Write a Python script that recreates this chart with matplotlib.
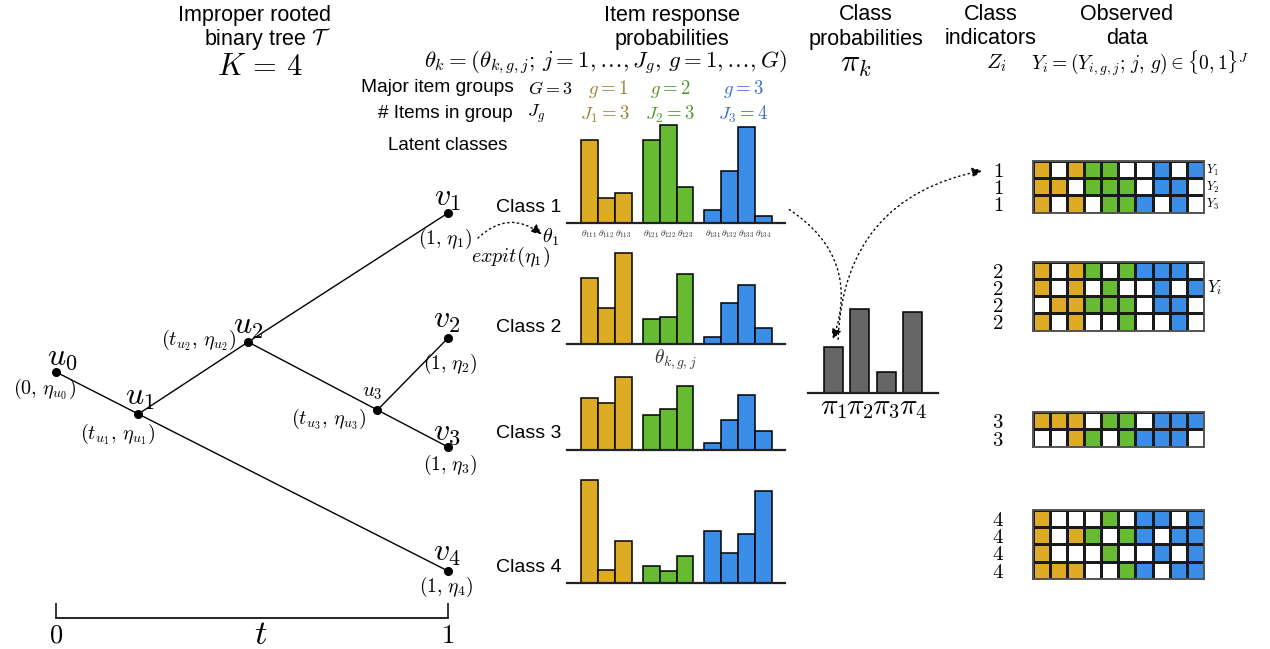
import numpy as np
import matplotlib
matplotlib.use("Agg")
import matplotlib.pyplot as plt
from matplotlib.colors import ListedColormap
from matplotlib.patches import FancyArrowPatch

plt.rcParams['font.family'] = ['Liberation Sans', 'DejaVu Sans']
plt.rcParams['mathtext.fontset'] = 'cm'

# ---------------- data ----------------
node_names = ['u0', 'u1', 'u2', 'u3', 'v1', 'v2', 'v3', 'v4']
node_t = [0.0, 0.21, 0.49, 0.82, 1.0, 1.0, 1.0, 1.0]
node_eta = [2.46, 2.04, 2.76, 2.08, 4.05, 2.80, 1.71, 0.47]
tree_edges = [('u0', 'u1'), ('u1', 'u2'), ('u1', 'v4'), ('u2', 'v1'),
              ('u2', 'u3'), ('u3', 'v2'), ('u3', 'v3')]

class_labels = ['Class 1', 'Class 2', 'Class 3', 'Class 4']
items_per_group = [3, 3, 4]
theta_g1 = [[0.79, 0.24, 0.29], [0.63, 0.34, 0.87], [0.50, 0.45, 0.70], [0.98, 0.12, 0.40]]
theta_g2 = [[0.79, 0.93, 0.34], [0.24, 0.26, 0.67], [0.33, 0.39, 0.61], [0.16, 0.11, 0.26]]
theta_g3 = [[0.12, 0.50, 0.91, 0.07], [0.07, 0.39, 0.56, 0.15],
            [0.07, 0.29, 0.52, 0.18], [0.50, 0.29, 0.47, 0.88]]
theta1_labels = [r'$\theta_{111}$', r'$\theta_{112}$', r'$\theta_{113}$',
                 r'$\theta_{121}$', r'$\theta_{122}$', r'$\theta_{123}$',
                 r'$\theta_{131}$', r'$\theta_{132}$', r'$\theta_{133}$', r'$\theta_{134}$']

pi_values = [0.20, 0.36, 0.09, 0.35]
pi_labels = [r'$\pi_1$', r'$\pi_2$', r'$\pi_3$', r'$\pi_4$']

Y_class1 = [[1, 0, 1, 1, 1, 0, 0, 1, 0, 1],
            [1, 1, 0, 1, 1, 1, 0, 1, 1, 0],
            [1, 0, 1, 0, 1, 1, 1, 0, 1, 0]]
Y_class2 = [[1, 0, 1, 1, 0, 1, 1, 1, 1, 0],
            [1, 0, 1, 0, 1, 0, 0, 1, 0, 1],
            [0, 1, 1, 1, 1, 1, 0, 1, 1, 0],
            [1, 0, 1, 0, 0, 1, 0, 0, 1, 0]]
Y_class3 = [[1, 1, 1, 0, 1, 1, 0, 1, 1, 1],
            [0, 0, 1, 1, 0, 1, 1, 1, 1, 0]]
Y_class4 = [[1, 0, 0, 0, 1, 0, 1, 1, 0, 1],
            [1, 0, 1, 1, 0, 1, 1, 0, 1, 1],
            [1, 0, 0, 0, 1, 0, 0, 1, 0, 1],
            [1, 1, 1, 0, 0, 1, 1, 0, 1, 1]]
item_group = [1, 1, 1, 2, 2, 2, 3, 3, 3, 3]

# ---------------- style ----------------
GOLD, GREEN, BLUE, GRAY = '#DEAC24', '#66BB33', '#3A8EE8', '#666666'
TXT_GOLD, TXT_GREEN, TXT_BLUE = '#9A8236', '#4E9A2A', '#3F6FCF'

W, H = 1270, 649
fig = plt.figure(figsize=(W / 100, H / 100), dpi=100)


def px_axes(x0, y0, x1, y1, **kw):
    return fig.add_axes([x0 / W, 1 - y1 / H, (x1 - x0) / W, (y1 - y0) / H], **kw)


ax0 = px_axes(0, 0, W, H)
ax0.set_xlim(0, W)
ax0.set_ylim(H, 0)
ax0.axis('off')


def txt(x, y, s, fs=14, **kw):
    kw.setdefault('ha', 'center')
    kw.setdefault('va', 'center')
    ax0.text(x, y, s, fontsize=fs, **kw)


# headers
txt(254, 15, 'Improper rooted', 15.5)
txt(268, 39, r'binary tree $\mathcal{T}$', 15.5)
txt(260, 67, r'$K\, =\, 4$', 22)
txt(672, 15, 'Item response', 15.5)
txt(672, 39, 'probabilities', 15.5)
txt(605, 62, r'$\theta_k = (\theta_{k,g,j};\, j=1,\ldots,J_g,\, g=1,\ldots,G)$', 16.5)
txt(866, 15, 'Class', 15.5)
txt(866, 39, 'probabilities', 15.5)
txt(856, 64, r'$\pi_k$', 23)
txt(991, 15, 'Class', 15.5)
txt(991, 39, 'indicators', 15.5)
txt(996, 63, r'$Z_i$', 15)
txt(1140, 63, r'$Y_i = (Y_{i,g,j};\, j,\, g) \in \{0,1\}^J$', 14)

txt(1127, 15, 'Observed', 15.5)
txt(1127, 39, 'data', 15.5)

txt(514, 88, 'Major item groups', 13.8, ha='right')
txt(550, 89, r'$G=3$', 13)
txt(608, 89, r'$g=1$', 13.5, color=TXT_GOLD)
txt(670, 89, r'$g=2$', 13.5, color=TXT_GREEN)
txt(743, 89, r'$g=3$', 13.5, color=TXT_BLUE)
txt(513, 113, '# Items in group', 13.6, ha='right')
txt(536, 114, r'$J_g$', 13)
txt(605, 114, r'$J_1=3$', 13.5, color=TXT_GOLD)
txt(670, 114, r'$J_2=3$', 13.5, color=TXT_GREEN)
txt(743, 114, r'$J_3=4$', 13.5, color=TXT_BLUE)
txt(448, 145, 'Latent classes', 13.5)

# ---------------- tree ----------------
axt = px_axes(56, 150, 448, 618)
axt.set_xlim(0, 1)
axt.set_ylim(0, 4.68)
pos = {n: (t, e) for n, t, e in zip(node_names, node_t, node_eta)}
for a, b in tree_edges:
    axt.plot([pos[a][0], pos[b][0]], [pos[a][1], pos[b][1]], color='black', lw=1.0,
             solid_capstyle='round', clip_on=False)
axt.plot(node_t, node_eta, 'o', color='black', ms=5.5, clip_on=False)
axt.patch.set_visible(False)
for s in ['top', 'right', 'left']:
    axt.spines[s].set_visible(False)
axt.spines['bottom'].set_linewidth(1.2)
axt.set_yticks([])
axt.set_xticks([0, 1], [r'$0$', r'$1$'], fontsize=19)
axt.tick_params(axis='x', direction='in', length=11, width=1.1, pad=4)
txt(261, 634, r'$t$', 25)

# node labels
txt(62, 357, r'$u_0$', 23)
txt(44, 389, r'$(0,\,\eta_{u_0})$', 14.5)
txt(140, 397, r'$u_1$', 23)
txt(118, 434, r'$(t_{u_1},\,\eta_{u_1})$', 14.5)
txt(248, 326, r'$u_2$', 23)
txt(199, 340, r'$(t_{u_2},\,\eta_{u_2})$', 14.5)
txt(372, 392, r'$u_3$', 15)
txt(329, 419, r'$(t_{u_3},\,\eta_{u_3})$', 14.5)
txt(447, 198, r'$v_1$', 23)
txt(445, 239, r'$(1,\,\eta_1)$', 14)
txt(447, 320, r'$v_2$', 23)
txt(450, 364, r'$(1,\,\eta_2)$', 14)
txt(447, 432, r'$v_3$', 23)
txt(450, 465, r'$(1,\,\eta_3)$', 14)
txt(447, 553, r'$v_4$', 23)
txt(446, 587, r'$(1,\,\eta_4)$', 14)
txt(511, 257, r'$expit(\eta_1)$', 14.5)
txt(551, 237, r'$\theta_1$', 14.5)

# ---------------- item response bar charts ----------------
baselines = [223, 344, 450, 583]
unit_px = 105.0
bar_px = 16.9
group_start = [0.83, 4.48, 8.12]
group_colors = [GOLD, GREEN, BLUE]
for k in range(4):
    yb = baselines[k]
    ax = px_axes(567, yb - 115, 785, yb)
    ax.set_xlim(0, 218 / bar_px)
    ax.set_ylim(0, 115 / unit_px)
    ax.patch.set_visible(False)
    vals = [theta_g1[k], theta_g2[k], theta_g3[k]]
    xs_all = []
    for g in range(3):
        xs = [group_start[g] + j + 0.5 for j in range(items_per_group[g])]
        xs_all += xs
        ax.bar(xs, vals[g], width=1.0, color=group_colors[g], edgecolor='black',
               linewidth=1.1, zorder=2)
    for s in ['top', 'right', 'left']:
        ax.spines[s].set_visible(False)
    ax.spines['bottom'].set_linewidth(1.6)
    ax.spines['bottom'].set_color('#222222')
    ax.set_yticks([])
    if k == 0:
        ax.set_xticks(xs_all, theta1_labels, fontsize=7, color='#333333')
        ax.tick_params(axis='x', length=0, pad=4)
    else:
        ax.set_xticks([])
    txt(496, baselines[k] - 16 if k != 3 else 567, class_labels[k], 14, ha='left')

txt(675, 360, r'$\theta_{k,g,j}$', 14, color='#333333')

# ---------------- class probabilities ----------------
axp = px_axes(808, 293, 938, 393)
axp.set_xlim(0.045, 4.95)
axp.set_ylim(0, 100 / 232.0)
axp.patch.set_visible(False)
axp.bar([1, 2, 3, 4], pi_values, width=0.73, color=GRAY, edgecolor='black', linewidth=1.1)
for s in ['top', 'right', 'left']:
    axp.spines[s].set_visible(False)
axp.spines['bottom'].set_linewidth(1.6)
axp.spines['bottom'].set_color('#222222')
axp.set_yticks([])
axp.set_xticks([1, 2, 3, 4], pi_labels, fontsize=21)
axp.tick_params(axis='x', length=0, pad=0)

# ---------------- observed data grids ----------------
cmap = ListedColormap(['white', GOLD, GREEN, BLUE])
grids = [Y_class1, Y_class2, Y_class3, Y_class4]
grid_tops = [161, 261.7, 412.3, 510]
row_h = 17.2
for k, Y in enumerate(grids):
    Y = np.array(Y)
    code = Y * np.array(item_group)[None, :]
    nr = Y.shape[0]
    top = grid_tops[k]
    ax = px_axes(1032.7, top, 1204, top + nr * row_h)
    ax.pcolormesh(code, cmap=cmap, vmin=-0.5, vmax=3.5, edgecolors='#1a1a1a', linewidth=1.0)
    ax.set_xlim(0, 10)
    ax.set_ylim(nr, 0)
    for s in ax.spines.values():
        s.set_color('#555555')
        s.set_linewidth(1.4)
    ax.set_xticks([])
    ax.set_yticks(np.arange(nr) + 0.5, [rf'${k + 1}$'] * nr, fontsize=15)
    ax.tick_params(axis='y', length=0, pad=21)
    if k == 0:
        for r in range(nr):
            ax.text(10.12, r + 0.55, rf'$Y_{r + 1}$', fontsize=9, ha='left', va='center')
    if k == 1:
        ax.text(10.15, 1.5, r'$Y_i$', fontsize=12, ha='left', va='center')

# ---------------- dotted arrows ----------------
arrow_kw = dict(arrowstyle='-|>,head_length=4,head_width=2', color='black', lw=1.0,
                linestyle=(0, (1, 2.5)), mutation_scale=1.5)
for (pa, pb, rad) in [((476, 240), (544, 236), -0.45),
                      ((787, 208), (832, 342), -0.4),
                      ((838, 342), (985, 170), -0.4)]:
    ar = FancyArrowPatch(pa, pb, connectionstyle=f'arc3,rad={rad}', **arrow_kw)
    ax0.add_patch(ar)

fig.savefig('out.png', dpi=100)
